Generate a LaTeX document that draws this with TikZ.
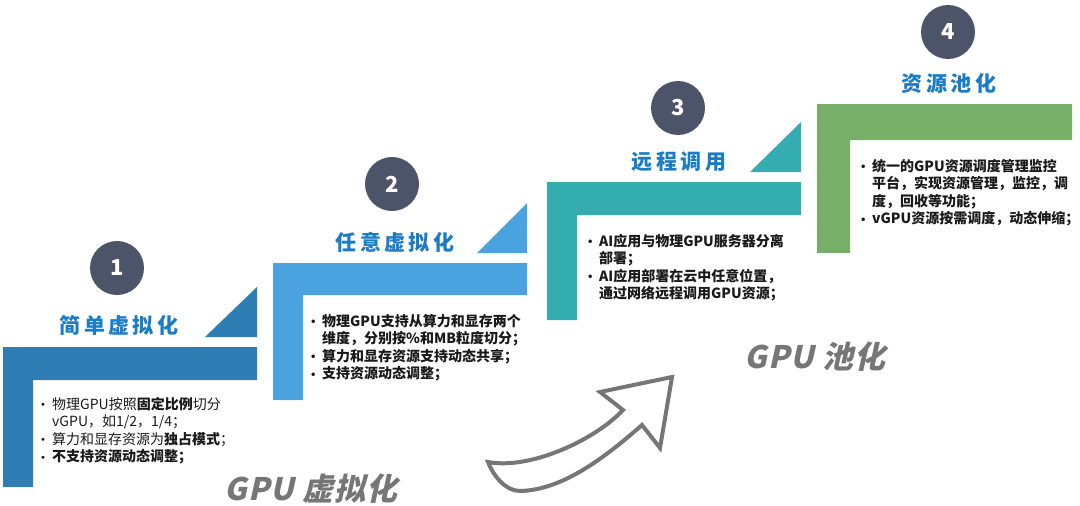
\documentclass[tikz,border=0pt]{standalone}
\usepackage{fontspec}
\setmainfont{Noto Sans CJK SC}
\newfontfamily\titlefont{Noto Sans CJK SC}[LetterSpace=16]
\newfontfamily\tagfont{Noto Sans CJK SC}[FakeSlant=0.22,LetterSpace=3]
\newfontfamily\dotfont{DejaVu Sans}

\definecolor{levelA}{HTML}{2E7EB5}
\definecolor{levelB}{HTML}{4AA3DF}
\definecolor{levelC}{HTML}{33ADB0}
\definecolor{levelD}{HTML}{77AE68}
\definecolor{numdisc}{HTML}{4B5468}
\definecolor{titleblue}{HTML}{1A7CC4}
\definecolor{taggray}{HTML}{767676}

\newcommand{\itm}{\makebox[12pt][l]{\raisebox{0.5pt}{\dotfont\fontsize{10}{10}\selectfont •}}}
\newcommand{\cont}{\hspace*{12pt}}

\begin{document}
\begin{tikzpicture}[x=1pt,y=-1pt,
    numdot/.style={circle,fill=numdisc,minimum size=54pt,inner sep=0,text=white,font=\fontsize{22}{22}\selectfont\bfseries},
    steptitle/.style={text=titleblue,inner sep=0,font=\titlefont\fontsize{21}{24}\selectfont\bfseries},
    items/.style={anchor=north west,align=left,inner sep=0,text=black!90,font=\fontsize{14}{17.5}\selectfont},
    bigtag/.style={text=taggray,inner sep=0,font=\tagfont\fontsize{31}{32}\selectfont\bfseries}]
\useasboundingbox (0,0) rectangle (1080,506);

% steps
\fill[levelA] (3,347) -- (257,347) -- (257,380) -- (33,380) -- (33,487) -- (3,487) -- cycle;
\fill[levelA] (205,337) -- (257,287) -- (257,337) -- cycle;
\fill[levelB] (273,263) -- (527,263) -- (527,295) -- (303,295) -- (303,400) -- (273,400) -- cycle;
\fill[levelB] (477,253) -- (527,203) -- (527,253) -- cycle;
\fill[levelC] (547,182) -- (801,182) -- (801,215) -- (577,215) -- (577,320) -- (547,320) -- cycle;
\fill[levelC] (750,172) -- (801,122) -- (801,172) -- cycle;
\fill[levelD] (817,104) -- (1072,104) -- (1072,140) -- (850,140) -- (850,253) -- (817,253) -- cycle;

% numbers and titles
\node[numdot] (n1) at (117,268) {1};
\node[numdot] (n2) at (392,184) {2};
\node[numdot] (n3) at (678,108) {3};
\node[numdot] (n4) at (948,32) {4};
\node[steptitle] (t1) at (119,325) {简单虚拟化};
\node[steptitle] (t2) at (395,242) {任意虚拟化};
\node[steptitle] (t3) at (679,162) {远程调用};
\node[steptitle] (t4) at (949,83) {资源池化};

% bullet texts
\node[items] (s1) at (40,397) {\itm 物理GPU按照\textbf{固定比例}切分\\
  \cont vGPU，如1/2，1/4；\\
  \itm 算力和显存资源为\textbf{独占模式}；\\
  \itm\textbf{不支持资源动态调整；}};
\node[items,font=\fontsize{14}{17.5}\selectfont\bfseries] (s2) at (310,314) {\itm 物理GPU支持从算力和显存两个\\
  \cont 维度，分别按\%和MB粒度切分；\\
  \itm 算力和显存资源支持动态共享；\\
  \itm 支持资源动态调整；};
\node[items,font=\fontsize{14}{17.5}\selectfont\bfseries] (s3) at (587,234) {\itm AI应用与物理GPU服务器分离\\
  \cont 部署；\\
  \itm AI应用部署在云中任意位置，\\
  \cont 通过网络远程调用GPU资源；};
\node[items,font=\fontsize{14}{17.5}\selectfont\bfseries] (s4) at (860,159) {\itm 统一的GPU资源调度管理监控\\
  \cont 平台，实现资源管理，监控，调\\
  \cont 度，回收等功能；\\
  \itm vGPU资源按需调度，动态伸缩；};

% big arrow
\coordinate (tail) at (488,462);
\coordinate (nA) at (623,410);
\coordinate (bA) at (600,392);
\coordinate (tip) at (672,377);
\coordinate (bB) at (660,448);
\coordinate (nB) at (642,425);
\coordinate (low) at (520,491);
\draw[taggray,line width=4pt,line join=miter,fill=white] (tail) .. controls (530,470) and (595,440) .. (nA) -- (bA) -- (tip) -- (bB) -- (nB)
  .. controls (600,462) and (560,490) .. (low) .. controls (505,491) and (493,475) .. (tail) -- cycle;

\node[bigtag] (g1) at (311,489) {GPU 虚拟化};
\node[bigtag] (g2) at (815,357) {GPU 池化};
\end{tikzpicture}
\end{document}
